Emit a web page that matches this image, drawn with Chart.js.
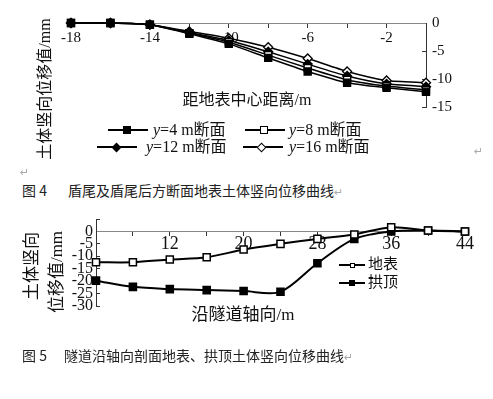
<!DOCTYPE html>
<html>
<head>
<meta charset="utf-8">
<script src="https://cdn.jsdelivr.net/npm/chart.js@4.4.1/dist/chart.umd.min.js"></script>
<style>
body { margin: 0; background: #fff; width: 493px; height: 399px; position: relative; overflow: hidden;
       font-family: "Liberation Serif", "Noto Sans CJK SC", serif; color: #111; }
canvas { position: absolute; left: 0; }
.t { position: absolute; white-space: nowrap; line-height: 1; }
.cap { font-family: "Noto Sans CJK SC", sans-serif; font-size: 14px; color: #222; }
.mark { color: #aaa; font-size: 11px; font-family: "DejaVu Sans", sans-serif; }
.line { position: absolute; height: 0; border-top: 2px solid #000; }
.pt { position: absolute; box-sizing: border-box; }
</style>
</head>
<body>
<canvas id="c1" width="493" height="125" style="top:0"></canvas>
<canvas id="c2" width="493" height="125" style="top:200px"></canvas>
<div id="overlay"></div>
<script>
// 图4: 距地表中心距离 (m) 与各断面竖向位移 (mm)
const distX = [-18, -16, -14, -12, -10, -8, -6, -4, -2, 0];
const sec4  = [0, 0, -0.3, -1.9, -3.7, -6.2, -8.6, -10.6, -11.5, -12.2];
const sec8  = [0, 0, -0.3, -1.8, -3.4, -5.7, -8.0, -10.1, -11.2, -11.9];
const sec12 = [0, 0, -0.3, -1.7, -3.1, -5.1, -7.3, -9.4, -10.8, -11.3];
const sec16 = [0, 0, -0.3, -1.5, -2.7, -4.3, -6.3, -8.6, -10.2, -10.6];
const fig4Names = ['y=4 m断面', 'y=8 m断面', 'y=12 m断面', 'y=16 m断面'];
const fig4XTicks = [-18, -14, -10, -6, -2];
const fig4YTicks = [0, -5, -10, -15];

// 图5: 沿隧道轴向 (m)
const axisX   = [4, 8, 12, 16, 20, 24, 28, 32, 36, 40, 44];
const surface = [-12.4, -12.4, -11.3, -10.4, -7.3, -5.0, -3.0, -1.2, 1.7, 0.4, 0];
const crown   = [-19.8, -22.3, -23.2, -23.6, -24.0, -24.3, -12.8, -3.0, 0, 0.4, 0];
const fig5Names = ['地表', '拱顶'];
const fig5XTicks = [12, 20, 28, 36, 44];
const fig5YTicks = [0, -5, -10, -15, -20, -25, -30];

const serif = 'Liberation Serif';

function pts(xs, ys) {
  return xs.map((x, i) => ({ x: x, y: ys[i] }));
}

function base(pad) {
  return {
    responsive: false,
    animation: false,
    events: [],
    layout: { padding: pad, autoPadding: false },
    plugins: { legend: { display: false }, tooltip: { enabled: false } }
  };
}

// 图4
const opts1 = base({ left: 71, top: 23, right: 27, bottom: 15 });
opts1.scales = {
  x: {
    type: 'linear', min: -18, max: 0, position: { y: 0 },
    afterFit: s => { s.height = 0; },
    grid: { drawOnChartArea: false, tickLength: 4, color: '#333' },
    border: { color: '#888', width: 1 },
    ticks: {
      stepSize: 2, autoSkip: false, maxRotation: 0, padding: 3.5, color: '#111',
      font: { family: serif, size: 15, lineHeight: 1 },
      callback: v => fig4XTicks.includes(v) ? String(v) : ''
    }
  },
  y: {
    min: -15, max: 0, position: 'right',
    afterFit: s => { s.width = 40; },
    grid: { drawOnChartArea: false, tickLength: -4, color: '#333' },
    border: { color: '#333', width: 1 },
    ticks: {
      stepSize: 5, autoSkip: false, padding: 10, color: '#111',
      font: { family: serif, size: 15, lineHeight: 1 },
      callback: v => fig4YTicks.includes(v) ? String(v) : ''
    }
  }
};

function ds1(vals, style, fill, r) {
  return {
    data: pts(distX, vals), borderColor: '#000', borderWidth: 1.5, tension: 0.2, clip: false,
    pointStyle: style, pointRadius: r, pointBackgroundColor: fill,
    pointBorderColor: '#000', pointBorderWidth: 1.3
  };
}

new Chart(document.getElementById('c1'), {
  type: 'line',
  data: {
    datasets: [
      ds1(sec4, 'rect', '#000', 5),
      ds1(sec8, 'rect', '#fff', 5),
      ds1(sec12, 'rectRot', '#000', 4.5),
      ds1(sec16, 'rectRot', '#fff', 4.5)
    ]
  },
  options: opts1
});

// 图5
const opts2 = base({ left: 50, top: 19, right: 28, bottom: 19 });
opts2.scales = {
  x: {
    type: 'linear', min: 4, max: 44, position: { y: 0 },
    afterFit: s => { s.height = 0; },
    grid: { drawOnChartArea: false, tickLength: 4, color: '#333' },
    border: { color: '#888', width: 1 },
    ticks: {
      stepSize: 4, autoSkip: false, maxRotation: 0, padding: 0, color: '#111',
      font: { family: serif, size: 18, lineHeight: 1 },
      callback: v => fig5XTicks.includes(v) ? String(v) : ''
    }
  },
  y: {
    min: -30, max: 5, position: 'left',
    afterFit: s => { s.width = 46; },
    grid: { drawOnChartArea: false, tickLength: -4, color: '#333' },
    border: { color: '#333', width: 1 },
    ticks: {
      stepSize: 5, autoSkip: false, padding: 7, color: '#111',
      font: { family: serif, size: 16, lineHeight: 1 },
      callback: v => fig5YTicks.includes(v) ? String(v) : ''
    }
  }
};

function ds2(vals, fill) {
  return {
    data: pts(axisX, vals), borderColor: '#000', borderWidth: 2, tension: 0.3, clip: false,
    pointStyle: 'rect', pointRadius: 5, pointBackgroundColor: fill,
    pointBorderColor: '#000', pointBorderWidth: 1.5
  };
}

new Chart(document.getElementById('c2'), {
  type: 'line',
  data: { datasets: [ds2(surface, '#fff'), ds2(crown, '#000')] },
  options: opts2
});

// 文字与图例
const ov = document.getElementById('overlay');
function text(html, x, y, css) {
  const d = document.createElement('div');
  d.className = 't';
  d.innerHTML = html;
  d.style.cssText = 'left:' + x + 'px;top:' + y + 'px;' + (css || '');
  ov.appendChild(d);
  return d;
}
function icon(x, y, w, mx, kind, size) {
  const l = document.createElement('div');
  l.className = 'line';
  l.style.cssText = 'left:' + x + 'px;top:' + (y - 1) + 'px;width:' + w + 'px;';
  ov.appendChild(l);
  const p = document.createElement('div');
  p.className = 'pt';
  let css = 'width:' + size + 'px;height:' + size + 'px;left:' + (mx - size / 2) + 'px;top:' + (y - size / 2) + 'px;';
  if (kind.indexOf('open') >= 0) css += 'background:#fff;border:1.5px solid #000;';
  else css += 'background:#000;';
  if (kind.indexOf('diamond') >= 0) css += 'transform:rotate(45deg);';
  p.style.cssText = css;
  ov.appendChild(p);
}
function yname(s) {
  return '<i>y</i>' + s.slice(1);
}

// 图4 轴标题
text('土体竖向位移值/mm', 45, 89, 'font-size:16px;transform:translate(-50%,-50%) rotate(-90deg);');
text('距地表中心距离/m', 247, 92, 'font-size:16px;transform:translateX(-50%);');

// 图4 图例
icon(108, 130, 40, 127, 'square', 8);
text(yname(fig4Names[0]), 153, 122, 'font-size:16px;');
icon(245, 130, 40, 264, 'open square', 8);
text(yname(fig4Names[1]), 289, 122, 'font-size:16px;');
icon(97, 147, 40, 116, 'diamond', 7);
text(yname(fig4Names[2]), 146, 139, 'font-size:16px;');
icon(243, 147, 40, 261, 'open diamond', 7);
text(yname(fig4Names[3]), 289, 139, 'font-size:16px;');
text('↵', 474, 146, '').classList.add('mark');
text('↵', 20, 167, '').classList.add('mark');

// 图4 标题
text('图&nbsp;4', 22, 183, '').classList.add('cap');
text('盾尾及盾尾后方断面地表土体竖向位移曲线<span class="mark">↵</span>', 68, 183, '').classList.add('cap');

// 图5 轴标题
text('土体竖向', 31, 266, 'font-size:17px;transform:translate(-50%,-50%) rotate(-90deg);');
text('位移值/mm', 56, 272, 'font-size:17px;transform:translate(-50%,-50%) rotate(-90deg);');
text('沿隧道轴向/m', 243, 306, 'font-size:17px;transform:translateX(-50%);');

// 图5 图例
icon(339, 265, 26, 352, 'open square', 5);
text(fig5Names[0], 368, 257, 'font-size:15px;');
icon(339, 283, 26, 352, 'square', 6);
text(fig5Names[1], 368, 275, 'font-size:15px;');

// 图5 标题
text('图&nbsp;5', 22, 348, '').classList.add('cap');
text('隧道沿轴向剖面地表、拱顶土体竖向位移曲线<span class="mark">↵</span>', 64, 348, '').classList.add('cap');
</script>
</body>
</html>
